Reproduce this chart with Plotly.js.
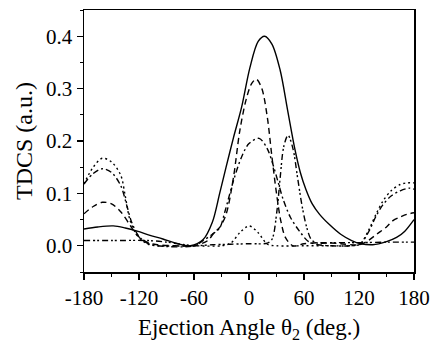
<!DOCTYPE html>
<html>
<head>
<meta charset="utf-8">
<script src="https://cdn.plot.ly/plotly-3.0.1.min.js"></script>
<style>html,body{margin:0;padding:0;background:#fff;}#chart{width:430px;height:346px;}</style>
</head>
<body>
<div id="chart"></div>
<script>
// Solid curve
const solidX = [-180,-165,-148,-135,-122,-108,-94,-80,-64,-50,-40,-32,-25,-17,-8,1,10,17,25,34,42,50,56,62,69,77,88,100,112,122,135,150,161,170,180];
const solidY = [0.032,0.036,0.038,0.034,0.028,0.020,0.013,0.005,0.000,0.012,0.045,0.100,0.150,0.206,0.265,0.340,0.390,0.400,0.385,0.335,0.260,0.185,0.140,0.108,0.080,0.060,0.040,0.022,0.010,0.004,0.002,0.008,0.016,0.028,0.050];
// Dashed curve
const dashX = [-180,-170,-160,-150,-140,-130,-122,-110,-100,-80,-60,-45,-38,-32,-25,-17,-10,-3,3,8,14,20,25,30,35,40,48,60,80,100,120,130,140,150,157,165,172,180];
const dashY = [0.061,0.075,0.083,0.080,0.065,0.040,0.020,0.006,0.002,0.000,0.000,0.010,0.025,0.035,0.060,0.130,0.220,0.280,0.310,0.318,0.300,0.245,0.170,0.100,0.045,0.015,0.000,0.004,0.006,0.004,0.002,0.010,0.023,0.036,0.048,0.055,0.060,0.063];
// Dotted curve
const dotX = [-180,-170,-160,-150,-140,-135,-130,-124,-118,-110,-100,-60,-30,-20,-10,0,10,20,30,60,90,110,121,130,139,146,155,165,172,180];
const dotY = [0.118,0.150,0.167,0.160,0.135,0.095,0.050,0.025,0.012,0.003,0.000,0.000,0.000,0.005,0.025,0.038,0.025,0.003,0.000,0.000,0.000,0.000,0.003,0.028,0.062,0.085,0.105,0.117,0.120,0.120];
// Dash-dot curve
const dashDotX = [-180,-170,-160,-150,-140,-133,-128,-120,-110,-100,-60,-50,-40,-32,-26,-17,-8,0,11,20,26,32,37,45,55,65,75,90,110,121,130,139,146,155,165,175,180];
const dashDotY = [0.118,0.138,0.147,0.140,0.115,0.075,0.045,0.018,0.004,0.000,0.000,0.010,0.022,0.034,0.067,0.124,0.170,0.195,0.205,0.185,0.156,0.120,0.090,0.055,0.028,0.008,0.002,0.000,0.000,0.003,0.025,0.058,0.078,0.095,0.105,0.110,0.108];
// Dash-dot-dot curve
const ddotX = [-180,-150,-110,-90,-70,-60,-40,-20,0,20,25,30.5,34,38,42.6,48,53,58,63,68,75,90,120,150,180];
const ddotY = [0.010,0.010,0.010,0.007,0.002,0.000,0.002,0.003,0.004,0.005,0.012,0.067,0.130,0.190,0.211,0.185,0.130,0.075,0.035,0.012,0.005,0.006,0.006,0.007,0.007];

const xTickVals = [-180,-120,-60,0,60,120,180];
const xTickText = ['-180','-120','-60','0','60','120','180'];
const yTickVals = [0.0,0.1,0.2,0.3,0.4];
const yTickText = ['0.0','0.1','0.2','0.3','0.4'];

function tr(x, y, dash) {
  return {x: x, y: y, type: 'scatter', mode: 'lines',
    line: {color: '#000', width: 1.4, dash: dash, shape: 'spline', smoothing: 0.9},
    hoverinfo: 'skip', showlegend: false};
}
const data = [
  tr(solidX, solidY, 'solid'),
  tr(dashX, dashY, '6px,4px'),
  tr(dotX, dotY, '2px,3px'),
  tr(dashDotX, dashDotY, '6px,3px,2px,3px'),
  tr(ddotX, ddotY, '6px,3px,2px,2px,2px,3px')
];
const FAM = 'Liberation Serif';
function f(size) { return {family: FAM, size: size, color: '#000'}; }
const layout = {
  width: 430, height: 346,
  margin: {l: 84, r: 16, t: 10, b: 74},
  paper_bgcolor: '#fff', plot_bgcolor: '#fff',
  font: f(21),
  xaxis: {
    range: [-180, 180], tickmode: 'array', tickvals: xTickVals, ticktext: xTickText,
    ticks: 'outside', ticklen: 6, tickwidth: 1.2, tickcolor: '#000',
    minor: {dtick: 30, ticks: 'outside', ticklen: 3, tickcolor: '#000', tickwidth: 1},
    showline: true, linecolor: '#000', linewidth: 1.5, mirror: true,
    showgrid: false, zeroline: false, ticklabeloverflow: 'allow',
    tickfont: f(21),
    title: {text: 'Ejection Angle θ<sub>2</sub> (deg.)', font: f(23), standoff: 10}
  },
  yaxis: {
    range: [-0.05, 0.45], tickmode: 'array', tickvals: yTickVals, ticktext: yTickText,
    ticks: 'outside', ticklen: 6, tickwidth: 1.2, tickcolor: '#000',
    minor: {dtick: 0.05, ticks: 'outside', ticklen: 3, tickcolor: '#000', tickwidth: 1},
    showline: true, linecolor: '#000', linewidth: 1.5, mirror: true,
    showgrid: false, zeroline: false,
    tickfont: f(21),
    title: {text: 'TDCS (a.u.)', font: f(24), standoff: 6}
  }
};
Plotly.newPlot('chart', data, layout, {staticPlot: true, displayModeBar: false});
</script>
</body>
</html>
